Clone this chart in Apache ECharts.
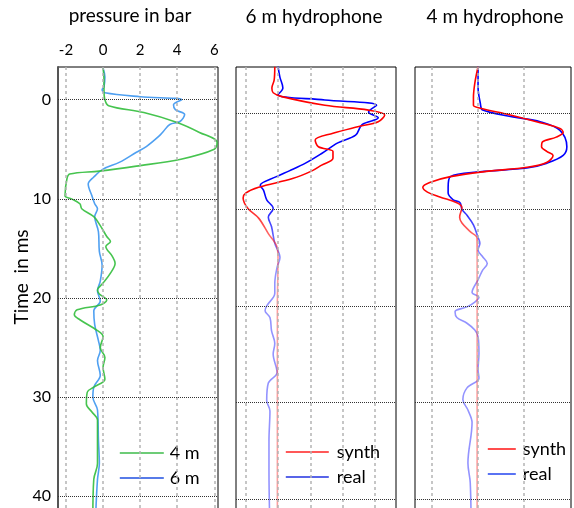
<!DOCTYPE html>
<html>
<head>
<meta charset="utf-8">
<script src="https://cdn.jsdelivr.net/npm/echarts@6/dist/echarts.min.js"></script>
<style>
html, body { margin: 0; padding: 0; overflow: hidden; background: #fff; }
#main { width: 574px; height: 520px; }
</style>
</head>
<body>
<div id="main"></div>
<script>
// traces are [time in ms, value]
var FONT = 'Lato';

var pressureTicks = [-2, 0, 2, 4, 6];
var timeTicks = [0, 10, 20, 30, 40];
var hydro6Ticks = [-1, 0, 1, 2, 3];
var hydro4Ticks = [-1, 0, 1];

var press4m = [[-3.2,0],[-2,0.05],[-1,0.05],[0,0.1],[0.6,0.3],[1.3,2.2],[2.3,4],[3.3,5.2],[4.3,6.15],[5,6],[6,4.2],[6.7,1.8],[7.2,-0.2],[7.5,-1.8],[8,-1.95],[9.7,-2.05],[10,-1.7],[10.5,-1.25],[11,-1.15],[11.8,-0.5],[12.7,-0.15],[13.8,0.2],[14.3,0.4],[14.8,0.15],[15.8,0.5],[16.5,0.65],[17.5,0.4],[18.5,0],[19.2,-0.3],[19.6,-0.2],[20.2,0.2],[20.7,-0.15],[21.2,-1.4],[21.7,-1.55],[22.2,-1.25],[23.3,-0.3],[23.9,0],[25,-0.15],[26,0.1],[27,0],[28.2,0.1],[29,-0.5],[29.5,-0.85],[30.7,-0.9],[31.5,-0.6],[32.3,-0.3],[34.3,-0.3],[36.7,-0.3],[38.3,-0.5],[42,-0.55]];
var press6m = [[-3.2,0],[-2.3,0.1],[-1.3,0.05],[-1,-0.05],[-0.7,0.1],[-0.3,2.0],[0,4.25],[0.5,3.8],[1,3.9],[1.5,4.4],[2.2,4.15],[2.5,3.6],[3.2,3.25],[3.7,3.0],[4.7,2.35],[5.3,1.8],[6.3,0.9],[7,0],[7.8,-0.5],[8.5,-0.8],[9.7,-0.6],[10.5,-0.45],[11,-0.3],[11.8,-0.45],[13.3,-0.25],[15.3,-0.2],[16.7,-0.05],[18.3,-0.15],[19.3,-0.3],[20.3,-0.15],[21.3,-0.5],[22.7,-0.45],[24.3,-0.25],[25.3,-0.15],[26.3,-0.3],[27.8,-0.15],[29,-0.5],[30,-0.55],[31.3,-0.3],[34.3,-0.25],[36.7,-0.2],[38.3,-0.3],[42,-0.4]];

var synth6m = [[-4.8,-0.1],[-3.4,-0.12],[-2.6,-0.19],[-2.1,-0.15],[-1.7,0.12],[-0.8,1.45],[-0.3,2.8],[0.2,3.3],[0.9,3.1],[1.4,2.5],[2.1,1.7],[2.8,1.15],[3.5,1.25],[4.0,1.7],[4.7,1.7],[5.4,1.35],[6.0,1.05],[6.8,0.45],[7.7,-0.6],[8.3,-1.0],[8.8,-1.08],[9.9,-0.93],[10.9,-0.6],[12.5,-0.3],[13.9,-0.03],[15.1,0],[20,-0.02],[30,-0.02],[43,-0.02]];
var real6m = [[-4.8,0],[-3.7,0.06],[-2.6,0.15],[-1.9,0],[-1.35,1.45],[-0.8,3.05],[-0.1,2.8],[0.5,3.1],[1.2,2.6],[2.3,2.4],[3.1,1.85],[4.2,1.35],[5.2,0.85],[6.0,0.35],[6.6,-0.05],[7.5,-0.55],[8.0,-0.45],[9.0,-0.35],[9.9,-0.15],[10.8,-0.3],[11.8,-0.2],[13.5,-0.1],[15,0.06],[16,-0.03],[17.7,-0.1],[18.7,-0.1],[20,-0.35],[20.5,-0.4],[21.2,-0.25],[22.6,-0.2],[23.9,-0.1],[25,-0.15],[26.9,-0.03],[28,-0.3],[29.8,-0.35],[30.9,-0.25],[34,-0.28],[37.1,-0.28],[43,-0.25]];

var synth4m = [[-4.8,0],[-3.1,-0.07],[-1.6,-0.1],[-0.8,-0.1],[-0.5,0.05],[0.2,0.7],[1.0,1.35],[1.6,1.78],[2.0,1.85],[2.5,1.7],[3.0,1.4],[3.5,1.38],[4.0,1.5],[4.4,1.63],[5.1,1.5],[5.6,1.1],[6.1,0.1],[6.6,-0.6],[7.2,-1.05],[7.7,-1.2],[8.2,-1.1],[8.7,-0.83],[9.3,-0.46],[9.8,-0.35],[10.8,-0.4],[11.4,-0.35],[12.3,-0.17],[13,-0.02],[20,-0.02],[43,-0.02]];
var real4m = [[-4.8,0],[-2.7,0],[-1,0.05],[-0.3,0.1],[0.4,0.76],[0.9,1.35],[1.8,1.78],[3.5,1.93],[4.4,1.85],[5.2,1.5],[5.7,1.06],[6.1,0.04],[6.6,-0.6],[7.7,-0.65],[8.3,-0.65],[9.0,-0.54],[9.3,-0.39],[10,-0.35],[10.6,-0.24],[11.6,-0.1],[12.9,0],[13.5,0.04],[14.2,0],[14.9,0.1],[15.6,0.2],[16.3,0.1],[17.3,0],[18.6,-0.13],[19.1,0.02],[19.6,-0.07],[20.1,-0.24],[20.6,-0.5],[21.2,-0.46],[21.8,-0.24],[22.5,-0.07],[23.2,0],[24.9,0.02],[26.6,0],[27.5,0.02],[28.5,-0.24],[29.7,-0.33],[30.8,-0.22],[32.1,-0.13],[36.3,-0.22],[38.3,-0.17],[43,-0.15]];

function toXY(arr) {
    return arr.map(function (p) { return [p[1], p[0]]; });
}

function fade(solid, faded) {
    return { type: 'linear', x: 0, y: 0, x2: 0, y2: 1, global: false,
        colorStops: [{ offset: 0, color: solid }, { offset: 0.28, color: solid },
                     { offset: 0.42, color: faded }, { offset: 1, color: faded }] };
}

function gridLines(vTicks, hTicks) {
    var data = [];
    vTicks.forEach(function (v) {
        data.push({ xAxis: v, lineStyle: { type: [3, 3], color: '#b4b4b4', width: 1.5 } });
    });
    hTicks.forEach(function (h) {
        data.push({ yAxis: h, lineStyle: { type: [1, 1], color: '#333', width: 1 } });
    });
    return { silent: true, symbol: 'none', label: { show: false }, animation: false, data: data };
}

function trace(name, idx, data, color, z, marks) {
    var s = {
        name: name, type: 'line', xAxisIndex: idx, yAxisIndex: idx,
        data: toXY(data), symbol: 'none', smooth: 0.35, z: z,
        lineStyle: { color: color, width: 1.6 }, itemStyle: { color: color },
        animation: false
    };
    if (marks) s.markLine = marks;
    return s;
}

function legendItem(name, color) {
    return { name: name, lineStyle: { color: color, width: 1.6 }, itemStyle: { opacity: 0 } };
}

var chart = echarts.init(document.getElementById('main'));

var labelFont = { color: '#000', fontFamily: FONT };
var noAxis = { show: false, onZero: false };

chart.setOption({
    animation: false,
    textStyle: { fontFamily: FONT },
    grid: [
        { left: 58, top: 67, width: 160, bottom: 0, show: true, borderColor: '#000', borderWidth: 1 },
        { left: 236, top: 67, width: 160, bottom: 0, show: true, borderColor: '#000', borderWidth: 1 },
        { left: 415, top: 67, width: 156, bottom: 0, show: true, borderColor: '#000', borderWidth: 1 }
    ],
    xAxis: [
        { gridIndex: 0, type: 'value', position: 'top', min: -2.43, max: 6.2,
          axisLine: noAxis, axisTick: { show: false }, splitLine: { show: false },
          axisLabel: Object.assign({ customValues: pressureTicks, fontSize: 15, margin: 9 }, labelFont) },
        { gridIndex: 1, type: 'value', min: -1.3, max: 3.65,
          axisLine: noAxis, axisTick: { show: false }, splitLine: { show: false }, axisLabel: { show: false } },
        { gridIndex: 2, type: 'value', min: -1.37, max: 2.02,
          axisLine: noAxis, axisTick: { show: false }, splitLine: { show: false }, axisLabel: { show: false } }
    ],
    yAxis: [
        { gridIndex: 0, type: 'value', inverse: true, min: -3.3, max: 42.4,
          axisLine: { show: true, onZero: false, lineStyle: { color: '#555', width: 2 } },
          axisTick: { show: false }, splitLine: { show: false },
          axisLabel: Object.assign({ customValues: timeTicks, fontSize: 16, margin: 7 }, labelFont) },
        { gridIndex: 1, type: 'value', inverse: true, min: -4.77, max: 42.2,
          axisLine: noAxis, axisTick: { show: false }, splitLine: { show: false }, axisLabel: { show: false } },
        { gridIndex: 2, type: 'value', inverse: true, min: -4.77, max: 42.2,
          axisLine: noAxis, axisTick: { show: false }, splitLine: { show: false }, axisLabel: { show: false } }
    ],
    legend: [
        { orient: 'vertical', left: 119, top: 444, padding: 0, itemWidth: 44, itemHeight: 20, itemGap: 7,
          selectedMode: false, textStyle: Object.assign({ fontSize: 18, padding: [0, 0, 0, 1] }, labelFont),
          data: [legendItem('4 m', '#3dbb4a'), legendItem('6 m', '#1f4fe0')] },
        { orient: 'vertical', left: 285, top: 443, padding: 0, itemWidth: 43, itemHeight: 20, itemGap: 7,
          selectedMode: false, textStyle: Object.assign({ fontSize: 18, padding: [0, 0, 0, 3] }, labelFont),
          data: [legendItem('synth', '#ff2020'), legendItem('real', '#2030e0')] },
        { orient: 'vertical', left: 487, top: 440, padding: 0, itemWidth: 28, itemHeight: 20, itemGap: 7,
          selectedMode: false, textStyle: Object.assign({ fontSize: 18, padding: [0, 0, 0, 2] }, labelFont),
          data: [legendItem('synth', '#ff2020'), legendItem('real', '#3050f0')] }
    ],
    graphic: [
        { type: 'text', x: 130, y: 16, style: { text: 'pressure in bar', fontSize: 19, fontFamily: FONT, textAlign: 'center', textVerticalAlign: 'middle', fill: '#000' } },
        { type: 'text', x: 314, y: 17, style: { text: '6 m hydrophone', fontSize: 19, fontFamily: FONT, textAlign: 'center', textVerticalAlign: 'middle', fill: '#000' } },
        { type: 'text', x: 495, y: 17, style: { text: '4 m hydrophone', fontSize: 19, fontFamily: FONT, textAlign: 'center', textVerticalAlign: 'middle', fill: '#000' } },
        { type: 'text', x: 22, y: 277, rotation: Math.PI / 2, style: { text: 'Time  in ms', fontSize: 19, fontFamily: FONT, textAlign: 'center', textVerticalAlign: 'middle', fill: '#000' } }
    ],
    series: [
        trace('6 m', 0, press6m, 'rgba(60,150,240,0.9)', 3, gridLines(pressureTicks, timeTicks)),
        trace('4 m', 0, press4m, 'rgba(50,190,60,0.9)', 4),
        trace('real', 1, real6m, fade('#0000ff', 'rgba(40,40,255,0.5)'), 3, gridLines(hydro6Ticks, timeTicks)),
        trace('synth', 1, synth6m, fade('#ff0000', 'rgba(255,40,40,0.45)'), 4),
        trace('real', 2, real4m, fade('#0000ff', 'rgba(40,40,255,0.5)'), 3, gridLines(hydro4Ticks, timeTicks)),
        trace('synth', 2, synth4m, fade('#ff0000', 'rgba(255,40,40,0.45)'), 4)
    ]
});
</script>
</body>
</html>
